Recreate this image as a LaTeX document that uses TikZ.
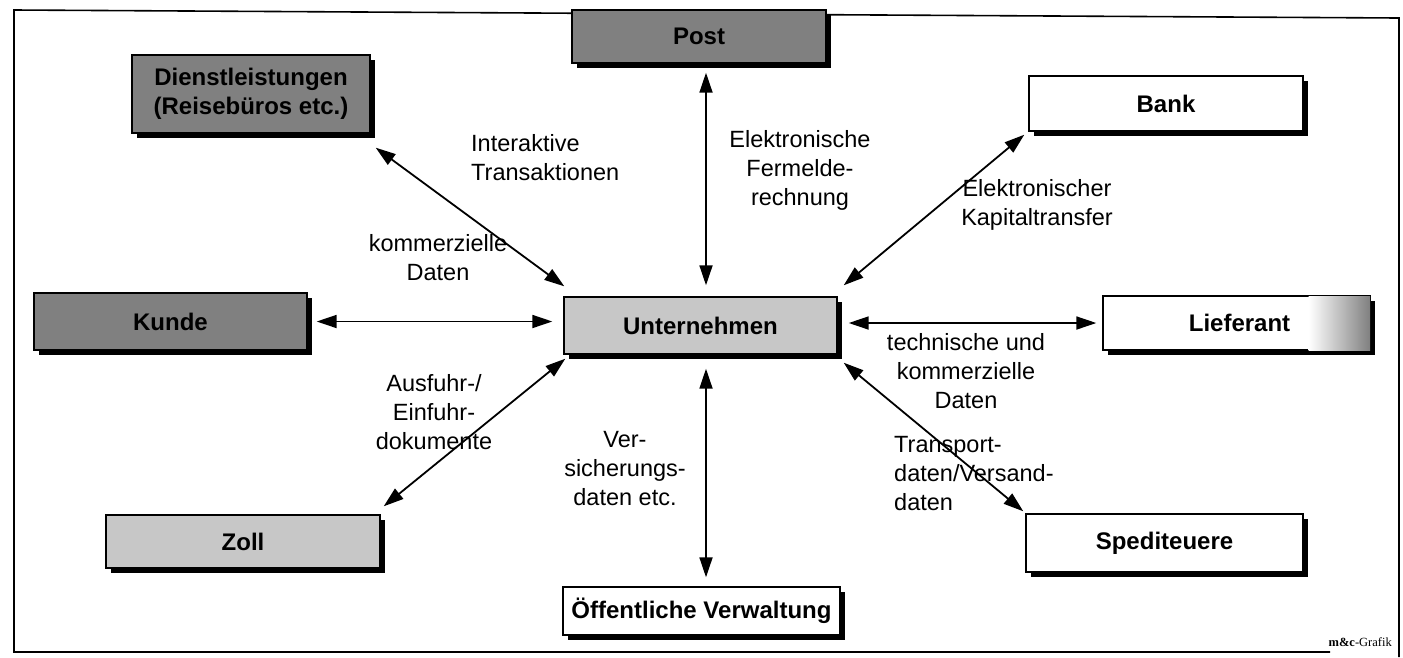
\documentclass[tikz,border=0pt]{standalone}
\usepackage{fontspec}
\setmainfont{Liberation Sans}
\newfontfamily\grafikfont{Liberation Serif}
\usetikzlibrary{arrows.meta,shadows}
\begin{document}
\begin{tikzpicture}[x=1pt,y=-1pt,
  box/.style={draw=black, line width=1.4pt, inner sep=0pt, align=center,
    font=\fontsize{24}{29}\selectfont\bfseries,
    drop shadow={shadow xshift=5pt,shadow yshift=-5pt,fill=black,opacity=1}},
  darkbox/.style={box, fill=black!50},
  midbox/.style={box, fill=black!22},
  lightbox/.style={box, fill=white},
  lbl/.style={font=\fontsize{23.5}{29}\selectfont, align=center, inner sep=0pt},
  conn/.style={line width=1.8pt, {Triangle[length=20pt,width=13pt]}-{Triangle[length=20pt,width=13pt]}}
]
\useasboundingbox (0,0) rectangle (1403,657);
% frame
\draw[line width=1.6pt] (1330,652) -- (14,652) -- (14,10) -- (1399,18) -- (1399,657);
\node[anchor=base east, inner sep=0pt, font=\grafikfont\fontsize{12.5}{14}\selectfont] (grafik) at (1392,646) {\textbf{m\&c}-Grafik};

% boxes
\node[darkbox, minimum width=238pt, minimum height=78pt] (dienst) at (251,94) {Dienstleistungen\\(Reisebüros etc.)};
\node[darkbox, minimum width=254pt, minimum height=53pt] (post) at (699,36.5) {Post};
\node[lightbox, minimum width=274pt, minimum height=55pt] (bank) at (1166,103.5) {Bank};
\node[darkbox, minimum width=273pt, minimum height=57pt] (kunde) at (170.5,321.5) {Kunde};
\node[midbox, minimum width=273pt, minimum height=57pt] (unt) at (700.5,325.5) {Unternehmen};
\node[lightbox, minimum width=267pt, minimum height=54pt] (lief) at (1236.5,323) {\hspace*{6pt}Lieferant};
\shade[left color=white, right color=black!50]
  ([xshift=-62pt,yshift=-0.7pt]lief.north east) rectangle ([xshift=-0.7pt,yshift=0.7pt]lief.south east);
\node[midbox, minimum width=274pt, minimum height=53pt] (zoll) at (243,541.5) {Zoll};
\node[lightbox, minimum width=277pt, minimum height=58pt] (sped) at (1164.5,543) {Spediteuere};
\node[lightbox, minimum width=277pt, minimum height=48pt] (oeff) at (701.5,611) {Öffentliche Verwaltung};

% connectors
\draw[conn] ([xshift=5pt,yshift=-14pt]dienst.south east) -- ([xshift=1pt,yshift=10pt]unt.north west);
\draw[conn] ([xshift=5.5pt,yshift=-9pt]unt.north |- post.south) -- ([xshift=5.5pt,yshift=11pt]unt.north);
\draw[conn] ([xshift=-4pt,yshift=-3pt]bank.south west) -- ([xshift=6pt,yshift=11pt]unt.north east);
\draw[conn] ([xshift=9pt]kunde.east) -- ([xshift=-11pt]kunde.east -| unt.west);
\draw[conn] ([xshift=11pt]unt.east |- lief.west) -- ([xshift=-6pt]lief.west);
\draw[conn] ([xshift=3pt,yshift=8pt]zoll.north east) -- ([xshift=2pt,yshift=-4pt]unt.south west);
\draw[conn] ([xshift=5.5pt,yshift=-14pt]unt.south) -- ([xshift=5.5pt,yshift=9pt]unt.south |- oeff.north);
\draw[conn] ([xshift=6pt,yshift=-8pt]unt.south east) -- ([xshift=-2pt,yshift=2pt]sped.north west);

% labels
\node[lbl, align=left, anchor=west] (l1) at (471,158) {Interaktive\\Transaktionen};
\node[lbl] (l2) at (800,170) {Elektronische\\Fermelde-\\rechnung};
\node[lbl] (l3) at (1037,205) {Elektronischer\\Kapitaltransfer};
\node[lbl] (l4) at (438,258) {kommerzielle\\Daten};
\node[lbl] (l5) at (966,371) {technische und\\kommerzielle\\Daten};
\node[lbl] (l6) at (434,412) {Ausfuhr-/\\Einfuhr-\\dokumente};
\node[lbl] (l7) at (625,469) {Ver-\\sicherungs-\\daten etc.};
\node[lbl, align=left, anchor=west] (l8) at (894,474) {Transport-\\daten/Versand-\\daten};
\end{tikzpicture}
\end{document}
